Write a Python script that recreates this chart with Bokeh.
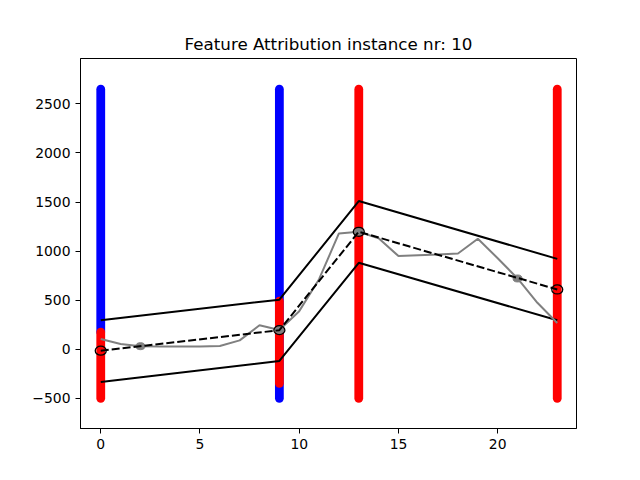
from bokeh.embed import file_html
from bokeh.models import FixedTicker, Range1d
from bokeh.plotting import figure
from bokeh.resources import INLINE

# feature columns (time steps shown), class colour segments along y
blue_x = [0, 9]
blue_y0 = [175, -500]
blue_y1 = [2650, 2650]

red_x = [0, 9, 13, 23]
red_y0 = [-500, -347, -500, -500]
red_y1 = [175, 490, 2650, 2650]

# attribution bands
band_x = [0, 9, 13, 23]
band_upper = [296, 505, 1510, 921]
band_mid = [-15, 194, 1197, 609]
band_lower = [-333, -120, 881, 295]

# the instance series
series_x = list(range(24))
series_y = [105, 54, 31, 28, 27, 28, 32, 90, 245, 195, 388, 714,
            1180, 1197, 1130, 949, 959, 966, 976, 1126, 927, 721, 473, 268]
highlight_x = [2, 9, 13, 21]
highlight_y = [31, 195, 1197, 721]

p = figure(
    title="Feature Attribution instance nr: 10",
    frame_width=496, frame_height=370,
    min_border_left=80, min_border_right=56,
    min_border_top=58, min_border_bottom=44,
    x_range=Range1d(-1.02, 23.97), y_range=Range1d(-808, 2963),
    output_backend="svg", toolbar_location=None,
)

p.segment(x0=blue_x, y0=blue_y0, x1=blue_x, y1=blue_y1,
          line_color="blue", line_width=8.8, line_cap="round")
p.segment(x0=red_x, y0=red_y0, x1=red_x, y1=red_y1,
          line_color="red", line_width=8.8, line_cap="round")

p.line(band_x, band_upper, line_color="black", line_width=2)
p.line(band_x, band_lower, line_color="black", line_width=2)

p.line(series_x, series_y, line_color="gray", line_width=2)
p.ellipse(highlight_x, highlight_y, width=9, height=7,
          width_units="screen", height_units="screen",
          fill_color="gray", line_color="gray")

p.line(band_x, band_mid, line_color="black", line_width=2, line_dash="8 3")
p.ellipse(band_x, band_mid, width=11, height=9,
          width_units="screen", height_units="screen",
          fill_color=None, line_color="black", line_width=1.3)

p.title.align = "center"
p.title.text_font = "DejaVu Sans"
p.title.text_font_size = "16.7px"
p.title.text_font_style = "normal"
p.title.text_color = "black"

p.xaxis.ticker = FixedTicker(ticks=[0, 5, 10, 15, 20])
p.yaxis.ticker = FixedTicker(ticks=[-500, 0, 500, 1000, 1500, 2000, 2500])
for ax in p.axis:
    ax.major_label_text_font = "DejaVu Sans"
    ax.major_label_text_font_size = "13.9px"
    ax.major_label_text_color = "black"
    ax.axis_line_color = "black"
    ax.major_tick_line_color = "black"
    ax.major_tick_out = 5
    ax.major_tick_in = 0
    ax.minor_tick_line_color = None

p.grid.grid_line_color = None
p.outline_line_color = "black"
p.outline_line_alpha = 1
p.background_fill_color = "white"
p.border_fill_color = "white"

open("out.html", "w").write(file_html(p, INLINE))
